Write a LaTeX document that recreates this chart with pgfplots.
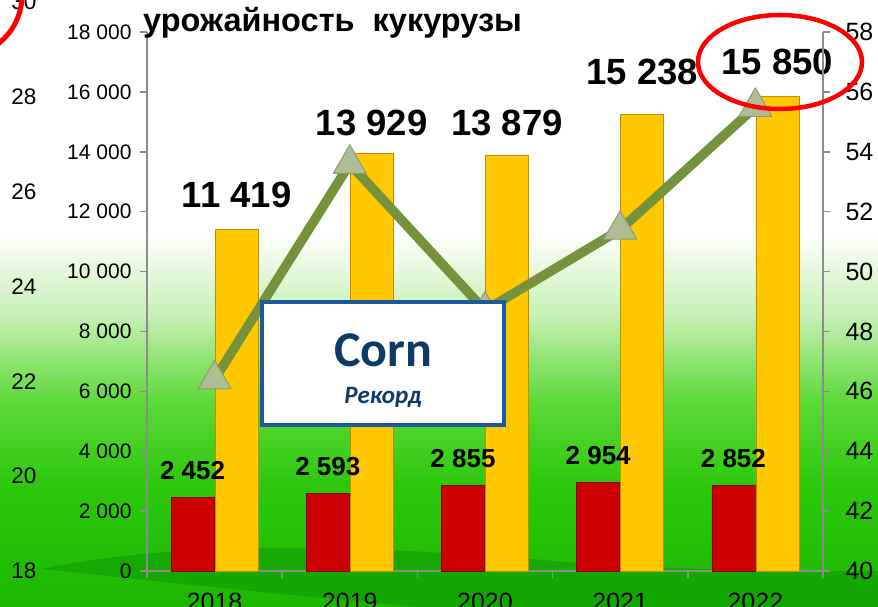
\documentclass[border=0pt]{standalone}
\usepackage{fontspec}
\setmainfont{Liberation Sans}
\newfontfamily\carlito{Carlito}
\usepackage{pgfplots}
\usepackage{pgfplotstable}
\pgfplotsset{compat=1.18}

\definecolor{barred}{HTML}{CC0000}
\definecolor{barredd}{HTML}{8E0000}
\definecolor{baryel}{HTML}{FFC800}
\definecolor{baryeld}{HTML}{C08E00}
\definecolor{linegreen}{HTML}{76923C}
\definecolor{trifill}{HTML}{AEBE92}
\definecolor{tridraw}{HTML}{8C9C74}
\definecolor{axisgray}{HTML}{8C8C8C}
\definecolor{boxblue}{HTML}{1A5A9C}
\definecolor{boxtext}{HTML}{0E3A68}
\definecolor{bgA}{HTML}{C6F0B4}
\definecolor{bgB}{HTML}{5ED93A}
\definecolor{bgC}{HTML}{2CC80C}
\definecolor{bgD}{HTML}{1CB800}
\definecolor{bgE}{HTML}{0E9A00}

% vertical background: the picture maps to 25bp..75bp
\pgfdeclareverticalshading{bgshade}{100bp}{color(0bp)=(bgD); color(25bp)=(bgD); color(35bp)=(bgC); color(42bp)=(bgB); color(49bp)=(bgA); color(56bp)=(white); color(100bp)=(white)}

% area (red bars)
\pgfplotstableread[col sep=comma]{
x,y,lab
0,2452,2 452
1,2593,2 593
2,2855,2 855
3,2954,2 954
4,2852,2 852
}\areatab

% harvest (yellow bars), dy = label offset above the bar
\pgfplotstableread[col sep=comma]{
x,y,dy,lab
0,11419,34,11 419
1,13929,31,13 929
2,13879,32,13 879
3,15238,43,15 238
4,15850,34,15 850
}\harvtab

% yield (line, right axis)
\pgfplotstableread{
x y
0 46.4
1 53.6
2 48.7
3 51.4
4 55.5
}\yieldtab

\begin{document}
\begin{tikzpicture}
\path[use as bounding box] (0,0) rectangle (878pt,607pt);
\clip (0,0) rectangle (878pt,607pt);
\shade[shading=bgshade] (0,0) rectangle (878pt,607pt);
% darker swoosh along the bottom
\fill[bgE, opacity=0.6] (40pt,38pt) .. controls (150pt,60pt) and (300pt,70pt) .. (600pt,42pt)
    .. controls (750pt,36pt) .. (878pt,36pt) -- (878pt,0) -- (420pt,0)
    .. controls (250pt,15pt) and (120pt,30pt) .. (40pt,38pt) -- cycle;

% outer left scale 18..30
\begin{axis}[
    scale only axis, width=10pt, height=569pt,
    at={(40pt,36pt)}, anchor=south west,
    xmin=0, xmax=1, ymin=18, ymax=30,
    ytick={18,20,22,24,26,28,30},
    yticklabels={18,20,22,24,26,28,30},
    hide x axis, axis y line*=left,
    axis line style={draw=none}, major tick length=0pt,
    yticklabel style={font=\fontsize{22.5}{22.5}\selectfont},
]
\end{axis}

% bars, left axis
\begin{axis}[
    scale only axis, width=676pt, height=539pt,
    at={(147pt,36pt)}, anchor=south west,
    xmin=-0.5, xmax=4.5, ymin=0, ymax=18000,
    axis y line*=left, axis x line*=bottom,
    axis line style={draw=axisgray, line width=1.5pt, -},
    major tick style={draw=axisgray, line width=1.5pt},
    major tick length=7pt, tick align=outside,
    scaled y ticks=false,
    ytick={0,2000,4000,6000,8000,10000,12000,14000,16000,18000},
    yticklabels={0,2 000,4 000,6 000,8 000,10 000,12 000,14 000,16 000,18 000},
    xtick={-0.5,0.5,1.5,2.5,3.5,4.5}, xticklabels={},
    extra x ticks={0,1,2,3,4},
    extra x tick labels={2018,2019,2020,2021,2022},
    extra x tick style={major tick style={draw=none}},
    xticklabel style={font=\fontsize{25}{25}\selectfont, yshift=-12pt},
    yticklabel style={font=\fontsize{21}{21}\selectfont, xshift=-5pt},
    clip=false,
]
\addplot[ybar, bar width=43pt, bar shift=-22pt, fill=barred, draw=barredd, line width=0.8pt,
    point meta=explicit symbolic, nodes near coords,
    every node near coord/.append style={anchor=center, xshift=-22pt, yshift=27pt, text=black,
        font=\bfseries\fontsize{26}{26}\selectfont}]
    table[x=x, y=y, meta=lab] {\areatab};
\addplot[ybar, bar width=43pt, bar shift=22pt, fill=baryel, draw=baryeld, line width=0.8pt,
    point meta=explicit symbolic, nodes near coords,
    visualization depends on={\thisrow{dy} \as \dy},
    every node near coord/.append style={anchor=center, xshift=22pt, yshift=\dy, text=black,
        font=\bfseries\fontsize{36.5}{36.5}\selectfont}]
    table[x=x, y=y, meta=lab] {\harvtab};
\end{axis}

% line, right axis
\begin{axis}[
    scale only axis, width=676pt, height=539pt,
    at={(147pt,36pt)}, anchor=south west,
    xmin=-0.5, xmax=4.5, ymin=40, ymax=58,
    axis y line*=right, axis x line=none,
    axis line style={draw=axisgray, line width=1.5pt, -},
    major tick style={draw=axisgray, line width=1.5pt},
    major tick length=7pt, tick align=outside,
    ytick={40,42,44,46,48,50,52,54,56,58},
    yticklabels={40,42,44,46,48,50,52,54,56,58},
    yticklabel style={font=\fontsize{25}{25}\selectfont, xshift=12pt},
    clip=false,
]
\addplot[color=linegreen, line width=9.5pt, line join=round,
    mark=triangle*, mark size=19pt,
    mark options={fill=trifill, draw=tridraw, line width=1pt}]
    table[x=x, y=y] {\yieldtab};
\end{axis}

% title
\node[anchor=base west, font=\bfseries\fontsize{32.5}{32.5}\selectfont, inner sep=0pt]
    at (143pt,575pt) {урожайность\ \ кукурузы};

% Corn box
\draw[boxblue, line width=4.5pt, fill=white] (262pt,182pt) rectangle (504pt,305pt);
\node[text=boxtext, font=\carlito\bfseries\fontsize{50}{50}\selectfont] at (383pt,257pt) {Corn};
\node[text=boxtext, font=\carlito\bfseries\itshape\fontsize{25}{25}\selectfont] at (383pt,210pt) {Рекорд};

% red marks
\draw[red, line width=4.5pt] (780pt,545pt) ellipse [x radius=82pt, y radius=47pt];
\draw[red, line width=5pt] (-40pt,612pt) circle [radius=62pt];
\end{tikzpicture}
\end{document}
